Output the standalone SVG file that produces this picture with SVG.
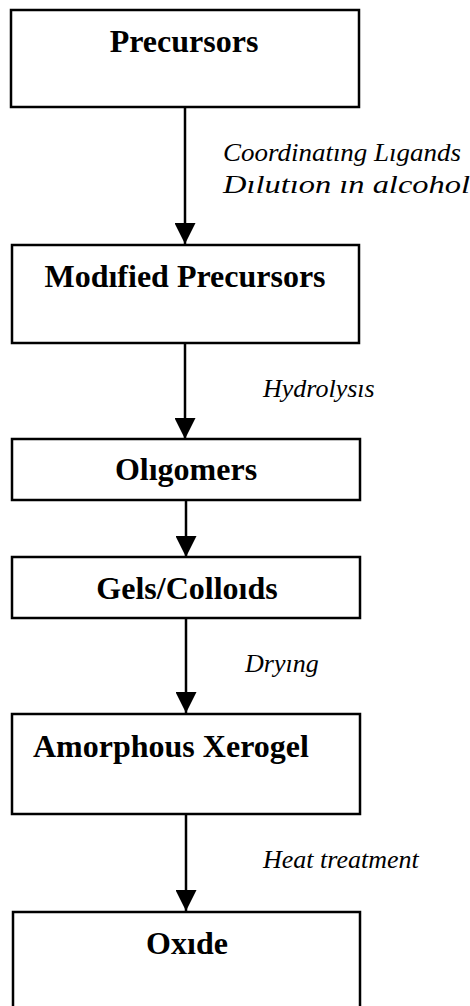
<svg xmlns="http://www.w3.org/2000/svg" width="470" height="1006" viewBox="0 0 470 1006">
<style>
.box{fill:#fff;stroke:#000;stroke-width:2.5}
.title{font-family:"Liberation Serif","Times New Roman",serif;font-weight:bold;font-size:32px;fill:#000}
.lbl{font-family:"Liberation Serif","Times New Roman",serif;font-style:italic;font-size:26px;fill:#000}
.edge{stroke:#000;stroke-width:2.5;fill:none;marker-end:url(#arr)}
</style>
<defs>
<marker id="arr" viewBox="0 0 21 21" refX="21" refY="10.5" markerWidth="21" markerHeight="21" markerUnits="userSpaceOnUse" orient="auto">
<path d="M0,0 L21,10.5 L0,21 z" fill="#000"/>
</marker>
</defs>
<rect width="470" height="1006" fill="#fff"/>
<g id="connectors">
<line class="edge" x1="185" y1="107" x2="185" y2="244"/>
<line class="edge" x1="185" y1="343" x2="185" y2="439"/>
<line class="edge" x1="186" y1="500" x2="186" y2="557"/>
<line class="edge" x1="186" y1="618" x2="186" y2="713"/>
<line class="edge" x1="186" y1="814" x2="186" y2="911"/>
<text class="lbl" x="223" y="161" font-size="22" textLength="238" lengthAdjust="spacingAndGlyphs">Coordinatıng Lıgands</text>
<text class="lbl" x="223" y="193" font-size="26" textLength="247" lengthAdjust="spacingAndGlyphs">Dılutıon ın alcohol</text>
<text class="lbl" x="263" y="397">Hydrolysıs</text>
<text class="lbl" x="245" y="672">Dryıng</text>
<text class="lbl" x="263" y="868">Heat treatment</text>
</g>
<g id="precursors">
<rect class="box" x="11" y="10" width="348" height="97"/>
<text class="title" x="184" y="52" text-anchor="middle">Precursors</text>
</g>
<g id="modified-precursors">
<rect class="box" x="12" y="245" width="347" height="98"/>
<text class="title" x="185" y="287" text-anchor="middle">Modıfied Precursors</text>
</g>
<g id="oligomers">
<rect class="box" x="12" y="439" width="348" height="61"/>
<text class="title" x="186" y="480" text-anchor="middle">Olıgomers</text>
</g>
<g id="gels-colloids">
<rect class="box" x="12" y="557" width="348" height="61"/>
<text class="title" x="187" y="599" text-anchor="middle">Gels/Colloıds</text>
</g>
<g id="amorphous-xerogel">
<rect class="box" x="12" y="714" width="348" height="100"/>
<text class="title" x="33" y="757">Amorphous Xerogel</text>
</g>
<g id="oxide">
<rect class="box" x="13" y="912" width="347" height="110"/>
<text class="title" x="187" y="954" text-anchor="middle">Oxıde</text>
</g>
</svg>
